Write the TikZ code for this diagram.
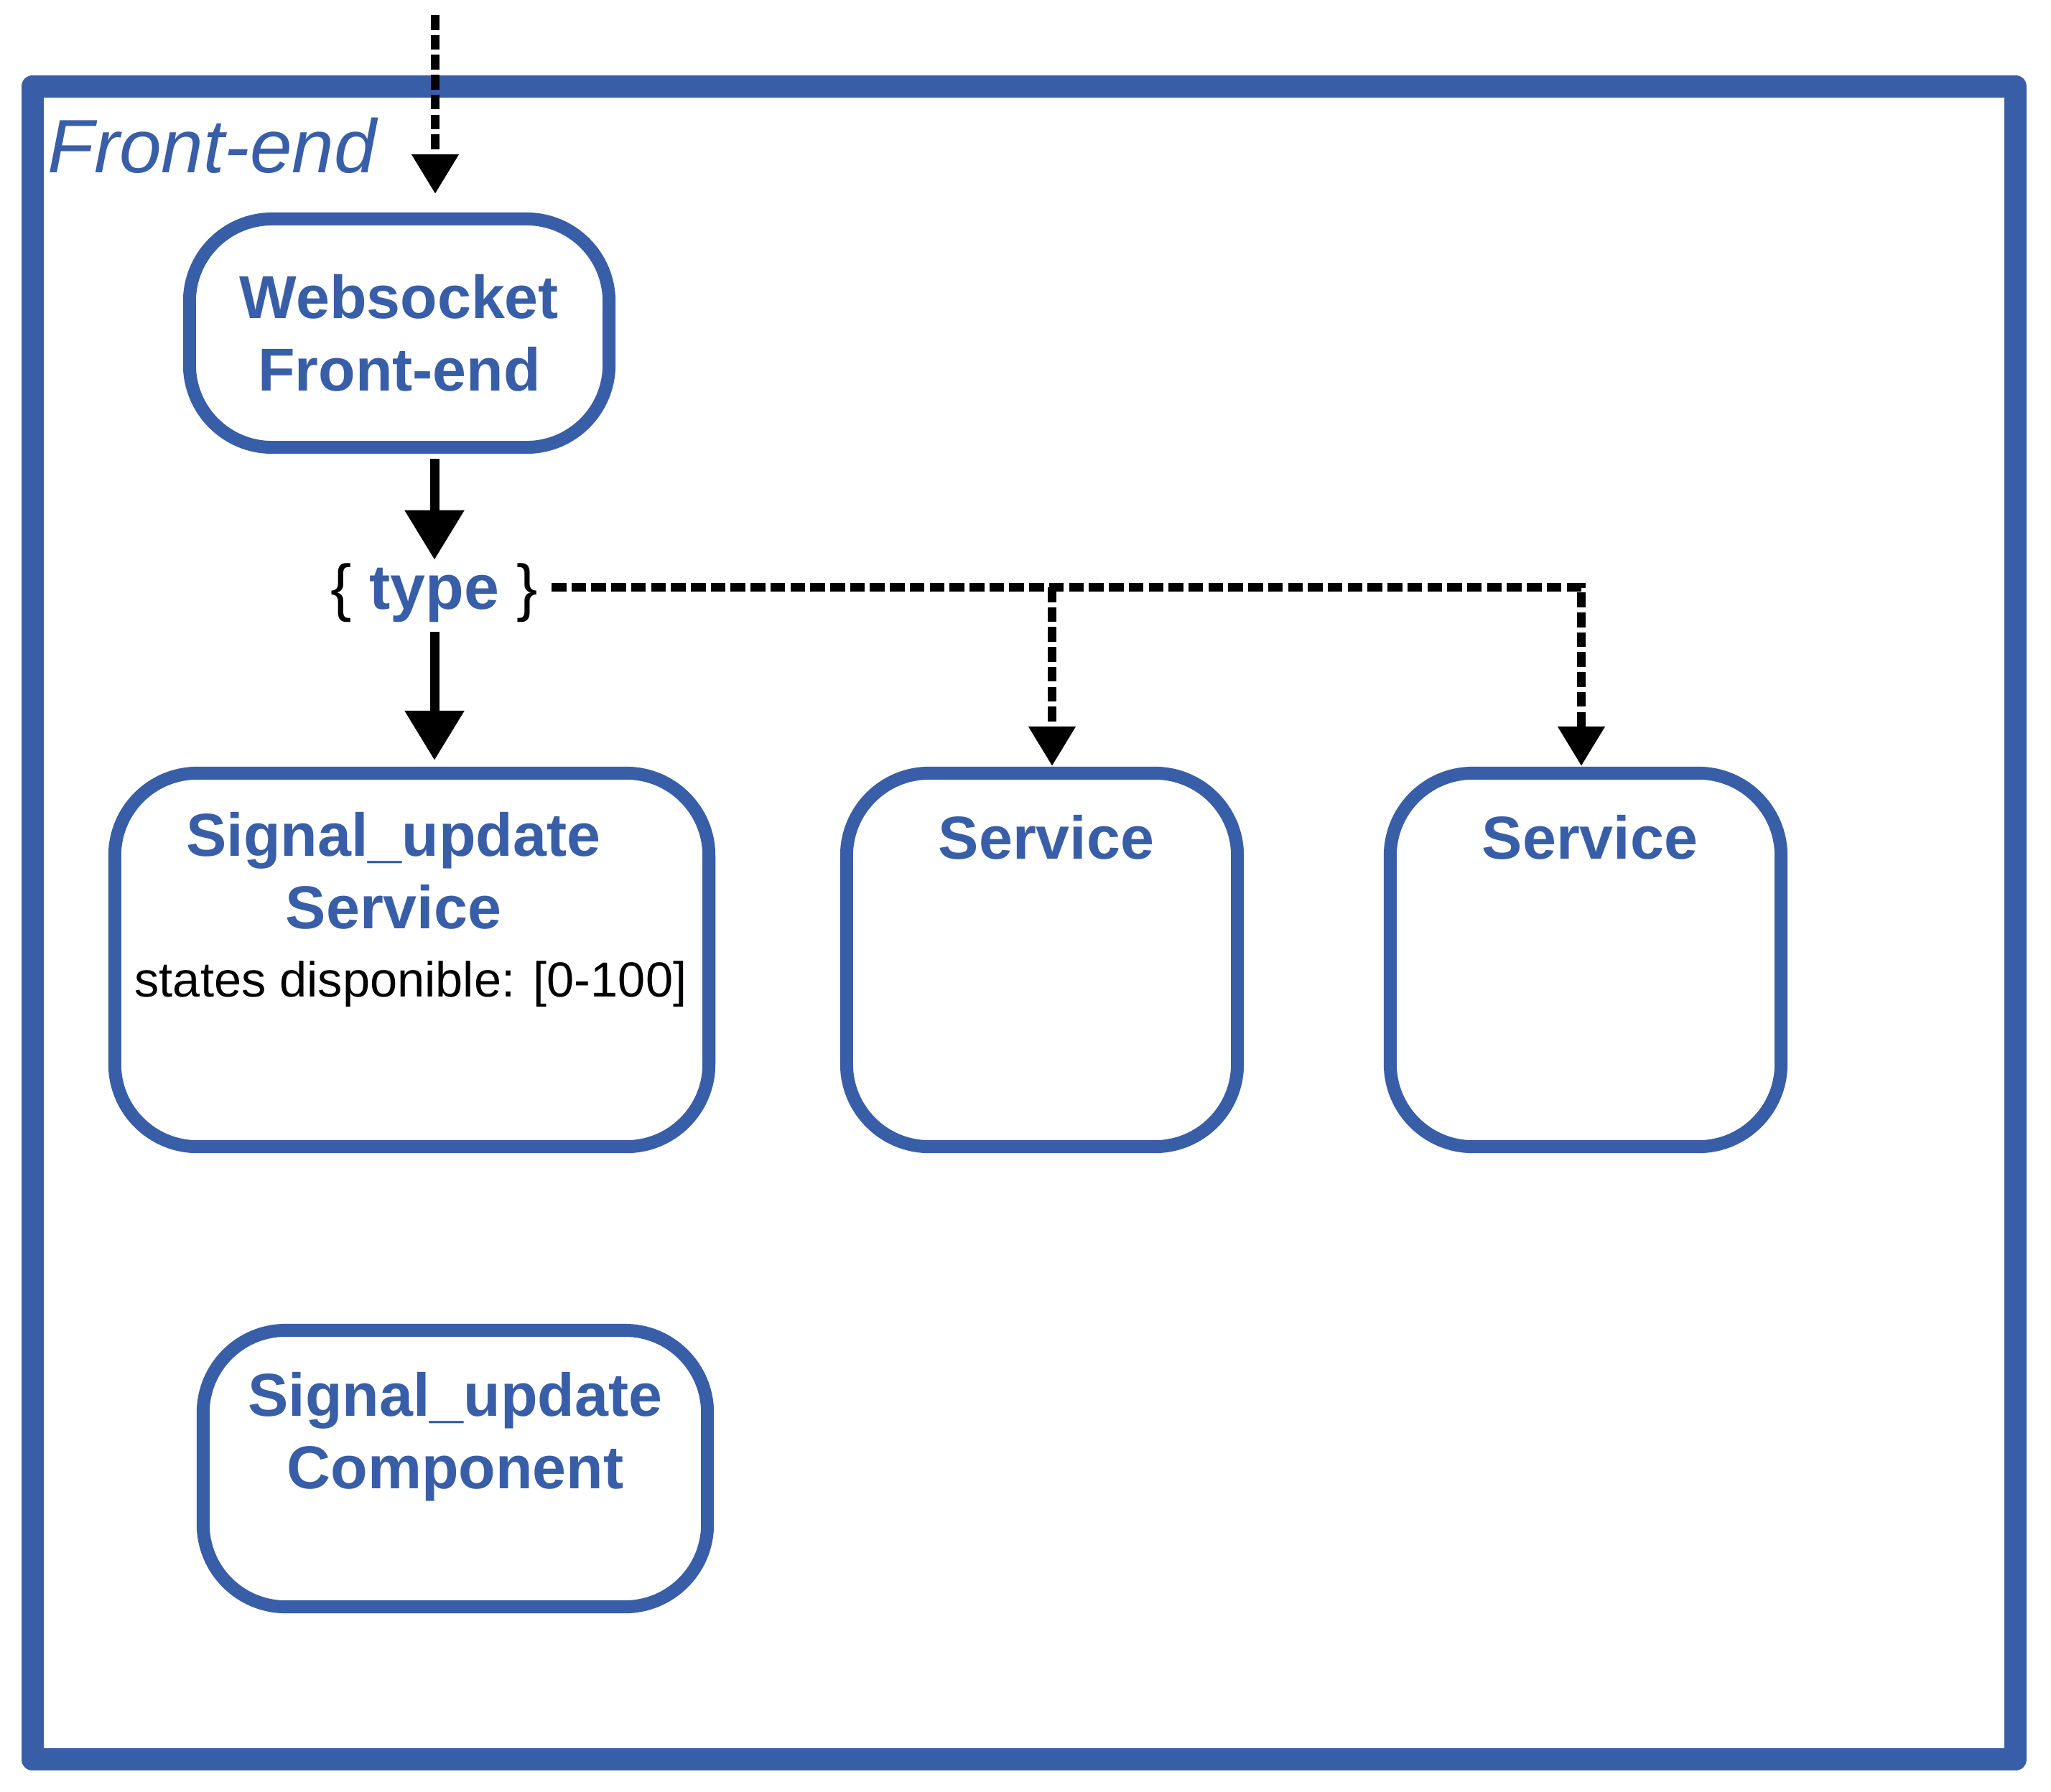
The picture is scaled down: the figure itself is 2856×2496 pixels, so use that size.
\documentclass[tikz,border=0pt]{standalone}
\usepackage{fontspec}
\setmainfont{Liberation Sans}
\usetikzlibrary{arrows.meta,shadows}
\definecolor{fblue}{RGB}{57,94,168}
\begin{document}
\begin{tikzpicture}[x=0.01cm,y=-0.01cm,
  frame/.style={rectangle, draw=fblue, line width=0.31cm, line join=round, fill=white, inner sep=0pt,
     drop shadow={shadow xshift=0.04cm, shadow yshift=-0.06cm, opacity=0.15, fill=black}},
  box/.style={rectangle, draw=fblue, line width=0.18cm, rounded corners=1.15cm, fill=white, inner sep=0pt,
     drop shadow={shadow xshift=0.03cm, shadow yshift=-0.06cm, opacity=0.15, fill=black}},
  title/.style={text=fblue, font=\fontsize{24}{28.5}\selectfont\bfseries, align=center, inner sep=0pt},
  solidarrow/.style={draw=black, line width=0.13cm, -{Triangle[length=0.69cm,width=0.8cm]}},
  dashline/.style={draw=black, line width=0.115cm, dash pattern=on 0.205cm off 0.072cm},
  dasharrow/.style={dashline, -{Triangle[length=0.55cm,width=0.63cm]}},
]
\useasboundingbox (0,0) rectangle (2856,2496);

% outer frame
\node[frame, minimum width=27.6cm, minimum height=23.29cm] (fe) at (1426,1285.5) {};
\node[anchor=base west, text=fblue, font=\fontsize{30}{35}\selectfont\itshape, inner sep=0pt] (felabel) at (66,240) {Front-end};

% boxes
\node[box, minimum width=5.84cm, minimum height=3.18cm] (ws) at (556,464) {};
\node[box, minimum width=8.27cm, minimum height=5.20cm] (sus) at (573.5,1337) {};
\node[box, minimum width=5.44cm, minimum height=5.20cm] (s2) at (1451,1337) {};
\node[box, minimum width=5.44cm, minimum height=5.20cm] (s3) at (2208,1337) {};
\node[box, minimum width=7.02cm, minimum height=3.85cm] (comp) at (634,2045.5) {};

% texts (base = baseline of the last line)
\node[title, anchor=base] (wst) at (556,544) {Websocket\\Front-end};
\node[title, anchor=base] (sust) at (548,1293) {Signal\_update\\Service};
\node[anchor=base, inner sep=0pt, font=\fontsize{19.5}{23}\selectfont] (susd) at (572,1388) {states disponible: [0-100]};
\node[title, anchor=base] (s2t) at (1457,1196) {Service};
\node[title, anchor=base] (s3t) at (2214,1196) {Service};
\node[title, anchor=base] (compt) at (634,2073) {Signal\_update\\Component};

\node[anchor=base, inner sep=0pt, font=\fontsize{25}{30}\selectfont] (typ) at (605,848) {\{ \textcolor{fblue}{\bfseries type} \}};

% connectors
\coordinate (in) at (606,21);
\draw[dasharrow, shorten >=0.26cm] (in) -- (in |- ws.north);
\draw[solidarrow, shorten <=0.07cm, shorten >=0.04cm] (ws.south -| typ.north) -- (typ.north);
\draw[solidarrow, shorten <=0.13cm, shorten >=0.09cm] (typ.south) -- (typ.south |- sus.north);

\coordinate (hstart) at (768,818);
\coordinate (hmid) at (1465,818);
\coordinate (hend) at (2202,818);
\draw[dasharrow, shorten >=0.01cm] (hstart) -- (hend) -- (hend |- s3.north);
\draw[dasharrow, shorten >=0.01cm] (hmid) -- (hmid |- s2.north);
\end{tikzpicture}
\end{document}
